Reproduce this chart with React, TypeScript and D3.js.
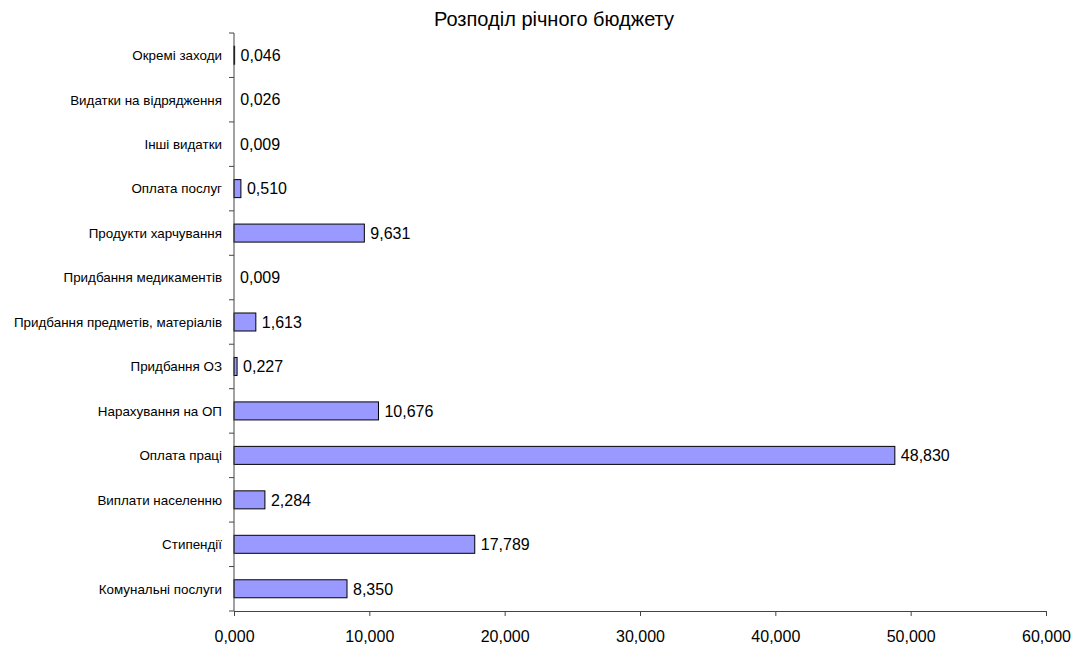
import React, { useRef, useEffect } from "react";
import * as d3 from "d3";

// categories listed from top to bottom, as in the picture
const categories = [
  "Окремі заходи",
  "Видатки на відрядження",
  "Інші видатки",
  "Оплата послуг",
  "Продукти харчування",
  "Придбання медикаментів",
  "Придбання предметів, матеріалів",
  "Придбання ОЗ",
  "Нарахування на ОП",
  "Оплата праці",
  "Виплати населенню",
  "Стипендії",
  "Комунальні послуги",
];
const values = [
  0.046, 0.026, 0.009, 0.51, 9.631, 0.009, 1.613, 0.227, 10.676, 48.83, 2.284,
  17.789, 8.35,
];
const xTicks = [0, 10, 20, 30, 40, 50, 60];
const title = "Розподіл річного бюджету";

const W = 1080;
const H = 648;
const margin = { top: 33, right: 34, bottom: 37, left: 234 };

const locale = d3.formatLocale({
  decimal: ",",
  thousands: " ",
  grouping: [3],
  currency: ["", " грн"],
});
const fmt = locale.format(".3f");

const App = () => {
  const svgRef = useRef<SVGSVGElement>(null);

  useEffect(() => {
    const svg = d3.select(svgRef.current);
    svg.selectAll("*").remove();

    const x = d3
      .scaleLinear()
      .domain([0, 60])
      .range([margin.left, W - margin.right]);
    const y = d3
      .scaleBand()
      .domain(categories)
      .range([margin.top, H - margin.bottom])
      .paddingInner(0.595)
      .paddingOuter(0.2975);

    const step = y.step();
    const font = "Arial, 'Liberation Sans', sans-serif";

    // title
    svg
      .append("text")
      .attr("x", 554)
      .attr("y", 26)
      .attr("text-anchor", "middle")
      .attr("font-family", font)
      .attr("font-size", 20)
      .attr("fill", "#000")
      .text(title);

    // bars (Excel drops bars thinner than half a pixel)
    const data = categories.map((c, i) => ({ c, v: values[i] }));
    svg
      .selectAll(".bar")
      .data(data.filter((d) => x(d.v) - x(0) >= 0.5))
      .join("rect")
      .attr("class", "bar")
      .attr("x", x(0))
      .attr("y", (d) => y(d.c)!)
      .attr("width", (d) => x(d.v) - x(0))
      .attr("height", y.bandwidth())
      .attr("fill", "#9999FF")
      .attr("stroke", "#000")
      .attr("stroke-width", 1);

    // value labels
    svg
      .selectAll(".val")
      .data(data)
      .join("text")
      .attr("class", "val")
      .attr("x", (d) => x(d.v) + 6)
      .attr("y", (d) => y(d.c)! + y.bandwidth() / 2)
      .attr("dy", "0.36em")
      .attr("font-family", font)
      .attr("font-size", 16)
      .attr("fill", "#000")
      .text((d) => fmt(d.v));

    // x axis
    const xAxis = d3
      .axisBottom(x)
      .tickValues(xTicks)
      .tickSize(5)
      .tickFormat((d) => fmt(d as number));
    const gx = svg
      .append("g")
      .attr("transform", `translate(0,${H - margin.bottom})`)
      .call(xAxis);
    gx.select(".domain").attr("stroke", "#444");
    gx.selectAll(".tick line").attr("stroke", "#444");
    gx.selectAll(".tick text")
      .attr("font-family", font)
      .attr("font-size", 16)
      .attr("fill", "#000")
      .attr("y", 31)
      .attr("dy", 0);

    // y axis line with ticks between categories
    const gy = svg.append("g");
    gy.append("line")
      .attr("x1", x(0))
      .attr("x2", x(0))
      .attr("y1", margin.top)
      .attr("y2", H - margin.bottom)
      .attr("stroke", "#444");
    gy.selectAll(".yt")
      .data(d3.range(categories.length + 1))
      .join("line")
      .attr("class", "yt")
      .attr("x1", x(0) - 5)
      .attr("x2", x(0))
      .attr("y1", (i) => margin.top + i * step)
      .attr("y2", (i) => margin.top + i * step)
      .attr("stroke", "#444");
    gy.selectAll(".cat")
      .data(categories)
      .join("text")
      .attr("class", "cat")
      .attr("x", x(0) - 12)
      .attr("y", (c) => y(c)! + y.bandwidth() / 2)
      .attr("dy", "0.36em")
      .attr("text-anchor", "end")
      .attr("font-family", font)
      .attr("font-size", 13.4)
      .attr("fill", "#000")
      .text((c) => c);
  }, []);

  return (
    <svg
      ref={svgRef}
      width={W}
      height={H}
      style={{ position: "absolute", left: 0, top: 0, background: "#fff" }}
    />
  );
};

export default App;
